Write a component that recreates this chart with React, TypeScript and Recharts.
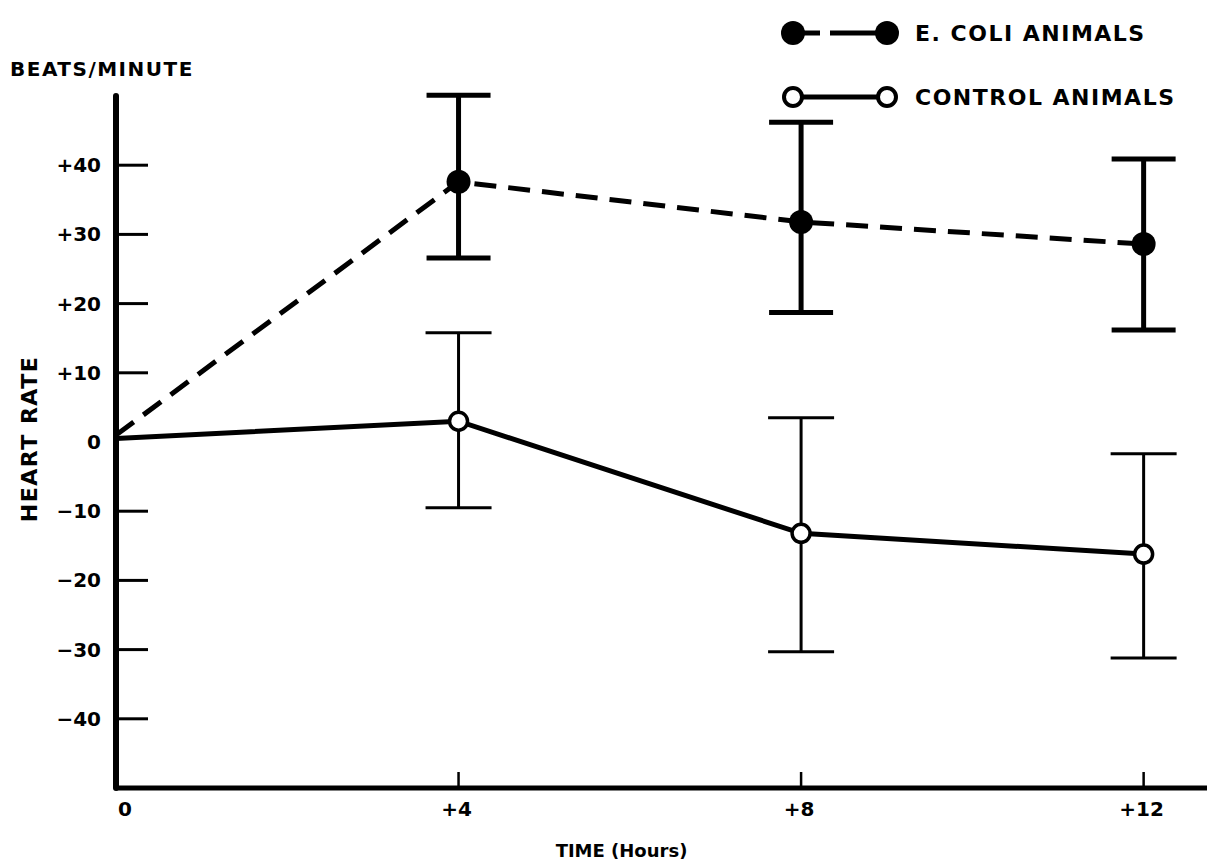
import { LineChart, Line, XAxis, YAxis, ErrorBar, Legend } from "recharts";

// time after injection (hours)
const hours = [0, 4, 8, 12];

// change in heart rate, beats/minute
const ecoliRate = [1, 37.6, 31.8, 28.6];
const ecoliErr: ([number, number] | null)[] = [null, [11.0, 12.5], [13.1, 14.4], [12.4, 12.3]];
const controlRate = [0.5, 3.0, -13.2, -16.2];
const controlErr: ([number, number] | null)[] = [null, [12.5, 12.8], [17.1, 16.7], [15.0, 14.5]];

const yTicks = [-40, -30, -20, -10, 0, 10, 20, 30, 40];
const xTicks = [0, 4, 8, 12];
const legendOrder = ["ecoli", "control"];

const FONT = "'DejaVu Sans', 'Liberation Sans', Arial, sans-serif";

const data = hours.map((h, i) => ({
  hour: h,
  ecoli: ecoliRate[i],
  ecoliErr: ecoliErr[i],
  control: controlRate[i],
  controlErr: controlErr[i],
}));

function signed(v: number) {
  if (v > 0) return `+${v}`;
  if (v < 0) return `\u2212${-v}`;
  return "0";
}

function YTick(props: any) {
  const { x, y, payload } = props;
  return (
    <g>
      {payload.value !== 0 && <line x1={x} y1={y} x2={x + 32} y2={y} stroke="#000" strokeWidth={3} />}
      <text
        x={x - 15}
        y={y}
        textAnchor="end"
        dominantBaseline="central"
        fontFamily={FONT}
        fontWeight="bold"
        fontSize={20}
        fill="#000"
      >
        {signed(payload.value)}
      </text>
    </g>
  );
}

function XTick(props: any) {
  const { x, y, payload } = props;
  const first = payload.value === 0;
  return (
    <g>
      {!first && <line x1={x} y1={y} x2={x} y2={y - 16} stroke="#000" strokeWidth={2.5} />}
      <text
        x={first ? x + 9 : x - 2}
        y={y + 21}
        textAnchor="middle"
        dominantBaseline="central"
        fontFamily={FONT}
        fontWeight="bold"
        fontSize={20}
        fill="#000"
      >
        {signed(payload.value)}
      </text>
    </g>
  );
}

function EcoliDot(props: any) {
  const { cx, cy, payload, index } = props;
  if (payload.hour === 0 || cx == null) return <g key={`e${index}`} />;
  return <circle key={`e${index}`} cx={cx} cy={cy} r={12} fill="#000" />;
}

function ControlDot(props: any) {
  const { cx, cy, payload, index } = props;
  if (payload.hour === 0 || cx == null) return <g key={`c${index}`} />;
  return <circle key={`c${index}`} cx={cx} cy={cy} r={9} fill="#fff" stroke="#000" strokeWidth={3.5} />;
}

function LegendIcon({ filled }: { filled: boolean }) {
  return (
    <svg width={135} height={30} style={{ display: "block" }}>
      {filled ? (
        <>
          <line x1={24} y1={15} x2={40} y2={15} stroke="#000" strokeWidth={5} />
          <line x1={50} y1={15} x2={98} y2={15} stroke="#000" strokeWidth={5} />
          <circle cx={13} cy={15} r={12} fill="#000" />
          <circle cx={107} cy={15} r={12} fill="#000" />
        </>
      ) : (
        <>
          <line x1={22} y1={15} x2={98} y2={15} stroke="#000" strokeWidth={5} />
          <circle cx={13} cy={15} r={9} fill="#fff" stroke="#000" strokeWidth={4} />
          <circle cx={107} cy={15} r={9} fill="#fff" stroke="#000" strokeWidth={4} />
        </>
      )}
    </svg>
  );
}

function renderLegend(props: any) {
  const entries = [...(props.payload || [])].sort(
    (a: any, b: any) => legendOrder.indexOf(a.dataKey) - legendOrder.indexOf(b.dataKey)
  );
  return (
    <div>
      {entries.map((entry: any, i: number) => (
        <div key={entry.value} style={{ display: "flex", alignItems: "center", height: 30, marginBottom: i === 0 ? 34 : 0 }}>
          <LegendIcon filled={entry.dataKey === "ecoli"} />
          <span
            style={{
              fontFamily: FONT,
              fontWeight: "bold",
              fontSize: 22,
              letterSpacing: 1.5,
              color: "#000",
              whiteSpace: "nowrap",
            }}
          >
            {entry.value}
          </span>
        </div>
      ))}
    </div>
  );
}

export default function App() {
  return (
    <div style={{ position: "absolute", left: 0, top: 0, width: 1207, height: 865, background: "#fff" }}>
      <LineChart width={1207} height={865} data={data} margin={{ top: 96, right: 0, bottom: 0, left: 0 }}>
        <XAxis
          dataKey="hour"
          type="number"
          domain={[0, 12.74]}
          allowDataOverflow
          ticks={xTicks}
          height={77}
          tickSize={0}
          tickMargin={0}
          tickLine={false}
          tick={<XTick />}
          axisLine={{ stroke: "#000", strokeWidth: 5 }}
          label={{
            value: "TIME (Hours)",
            position: "insideBottom",
            offset: 8,
            dx: -40,
            fontFamily: FONT,
            fontWeight: "bold",
            fontSize: 18,
            fill: "#000",
          }}
        />
        <YAxis
          type="number"
          domain={[-50, 50]}
          allowDataOverflow
          ticks={yTicks}
          width={116}
          tickSize={0}
          tickMargin={0}
          tickLine={false}
          tick={<YTick />}
          axisLine={{ stroke: "#000", strokeWidth: 6, strokeLinecap: "round" }}
          label={{
            content: (p: any) => {
              const vb = p.viewBox;
              const cx = vb.x + 29;
              const cy = vb.y + vb.height / 2 - 3;
              return (
                <text
                  x={cx}
                  y={cy}
                  transform={`rotate(-90 ${cx} ${cy})`}
                  textAnchor="middle"
                  dominantBaseline="central"
                  fontFamily={FONT}
                  fontWeight="bold"
                  fontSize={22}
                  letterSpacing={1.5}
                  fill="#000"
                >
                  HEART RATE
                </text>
              );
            },
          }}
        />
        <text x={10} y={69} dominantBaseline="central" fontFamily={FONT} fontWeight="bold" fontSize={20} letterSpacing={1.5} fill="#000">
          BEATS/MINUTE
        </text>
        <Legend
          layout="vertical"
          align="center"
          verticalAlign="middle"
          content={renderLegend}
          wrapperStyle={{ top: 18, left: 780, width: 427, height: 100 }}
        />
        <Line
          dataKey="control"
          name="CONTROL ANIMALS"
          type="linear"
          stroke="#000"
          strokeWidth={5}
          dot={ControlDot}
          activeDot={false}
          legendType="circle"
          isAnimationActive={false}
        >
          <ErrorBar dataKey="controlErr" direction="y" width={33} stroke="#000" strokeWidth={3} isAnimationActive={false} />
        </Line>
        <Line
          dataKey="ecoli"
          name="E. COLI ANIMALS"
          type="linear"
          stroke="#000"
          strokeWidth={5}
          strokeDasharray="22 12"
          dot={EcoliDot}
          activeDot={false}
          legendType="circle"
          isAnimationActive={false}
        >
          <ErrorBar dataKey="ecoliErr" direction="y" width={32} stroke="#000" strokeWidth={5} isAnimationActive={false} />
        </Line>
      </LineChart>
    </div>
  );
}
